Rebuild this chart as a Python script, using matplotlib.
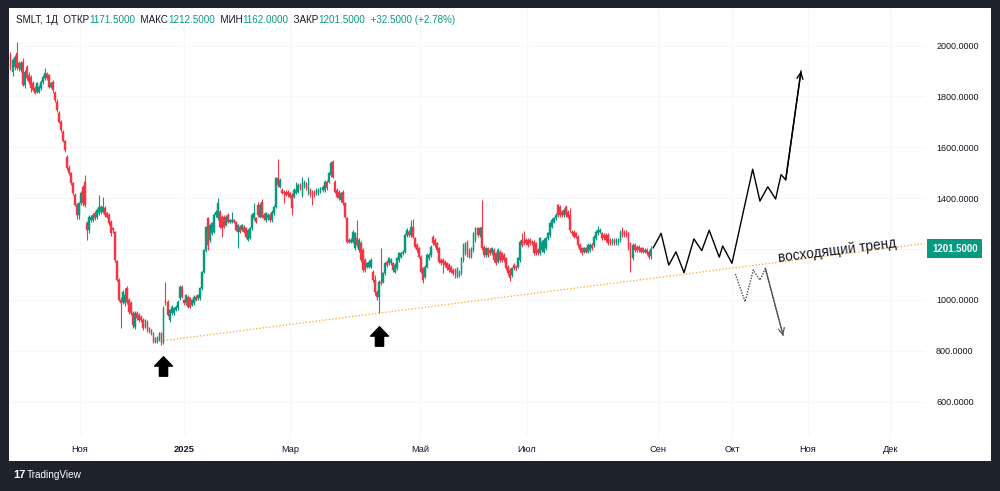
import numpy as np
import matplotlib
matplotlib.use("Agg")
import matplotlib.pyplot as plt
import matplotlib.transforms as mtransforms
from matplotlib.patches import Rectangle
from matplotlib.path import Path

# daily SMLT candles (bar index = position on the time axis)
opens = [
    1963, 1898, 1917, 1970, 1931, 1904, 1937, 1845, 1917, 1885,
    1878, 1852, 1832, 1819, 1819, 1832, 1858, 1872, 1887, 1885,
    1839, 1858, 1813, 1780, 1734, 1700, 1662, 1625, 1563, 1518,
    1498, 1458, 1413, 1375, 1334, 1380, 1445, 1465, 1301, 1275,
    1314, 1314, 1341, 1327, 1341, 1345, 1347, 1360, 1341, 1334,
    1308, 1281, 1268, 1153, 1080, 1000, 993, 987, 1046, 1000,
    987, 947,
    895, 948, 941, 934, 921, 895, 915, 889, 869, 869,
    836, 836, 843, 869, 830, 1000, 993, 921, 948, 948,
    961, 967, 1007, 1052, 1000, 987, 1013, 1007, 980, 987,
    1013, 1007, 1007, 1046, 1111, 1197, 1321, 1236, 1262, 1269,
    1334, 1321, 1347, 1328, 1328, 1295, 1334, 1308, 1308, 1314,
    1308, 1269, 1288, 1275, 1288, 1282, 1236, 1243, 1282, 1321,
    1321, 1374, 1328, 1387, 1334,
    1315, 1321, 1334, 1315, 1341, 1367, 1479, 1446, 1433, 1426,
    1426, 1426, 1420, 1413, 1406, 1420, 1426, 1452, 1413, 1446,
    1459, 1420, 1433, 1426, 1426, 1420, 1420, 1426, 1433, 1433,
    1465, 1465, 1492, 1544, 1465, 1433, 1426, 1393, 1426, 1380,
    1321, 1236, 1229, 1229, 1203, 1243, 1197, 1223, 1197, 1157,
    1131, 1131, 1131, 1111, 1079, 1030, 1010, 1072, 1072, 1105,
    1151, 1144, 1144, 1144, 1111, 1125, 1157, 1170,
    1183, 1190, 1255, 1269, 1255, 1288, 1242, 1216, 1203, 1170,
    1124, 1092, 1131, 1164, 1177, 1249, 1236, 1223, 1203, 1157,
    1157, 1151, 1144, 1137, 1131, 1118, 1118, 1092, 1098, 1105,
    1157, 1183, 1229, 1196, 1170, 1196, 1236, 1282, 1255, 1288,
    1210, 1177, 1203, 1196, 1183, 1196, 1183, 1151, 1190, 1183,
    1177, 1164, 1131, 1118, 1098, 1137, 1131, 1131, 1157, 1236,
    1229, 1236, 1236, 1236, 1229, 1229, 1223, 1196, 1183, 1196,
    1190, 1203, 1242, 1255, 1288, 1308, 1321, 1373, 1367, 1347,
    1334, 1367, 1347, 1334, 1269, 1269, 1262, 1249, 1216, 1203,
    1190, 1203, 1190, 1196, 1216, 1216, 1242, 1262, 1269, 1262,
    1255, 1255, 1255, 1236, 1223, 1236, 1223, 1223, 1236, 1275,
    1269, 1269, 1262, 1223, 1164, 1216, 1210, 1210, 1203, 1203,
    1190, 1196, 1190, 1171.5,
]
highs = [
    1975, 1950, 1965, 2016, 1940, 1940, 1950, 1905, 1925, 1895,
    1885, 1860, 1840, 1858, 1846, 1865, 1885, 1911, 1895, 1890,
    1858, 1865, 1820, 1790, 1742, 1706, 1668, 1630, 1570, 1530,
    1505, 1465, 1420, 1380, 1385, 1428, 1452, 1490, 1310, 1334,
    1334, 1340, 1350, 1360, 1413, 1372, 1406, 1368, 1347, 1340,
    1315, 1288, 1272, 1158, 1086, 1010, 1040, 1045, 1055, 1008,
    995, 955,
    955, 958, 948, 940, 928, 925, 922, 895, 886, 875,
    853, 860, 872, 874, 975, 1072, 1000, 965, 980, 972,
    980, 998, 1058, 1058, 1005, 1025, 1020, 1012, 1005, 1018,
    1018, 1025, 1050, 1115, 1202, 1292, 1328, 1300, 1306, 1340,
    1352, 1400, 1352, 1333, 1334, 1333, 1340, 1318, 1347, 1320,
    1312, 1300, 1295, 1300, 1294, 1288, 1280, 1288, 1340, 1380,
    1326, 1387, 1380, 1395, 1340,
    1347, 1340, 1340, 1352, 1374, 1485, 1553, 1478, 1440, 1432,
    1432, 1432, 1426, 1420, 1440, 1465, 1458, 1460, 1485, 1472,
    1465, 1485, 1440, 1432, 1432, 1440, 1440, 1446, 1452, 1472,
    1472, 1505, 1545, 1551, 1472, 1440, 1433, 1426, 1433, 1387,
    1328, 1242, 1242, 1275, 1269, 1315, 1242, 1230, 1203, 1164,
    1150, 1157, 1164, 1118, 1100, 1040, 1078, 1203, 1111, 1151,
    1157, 1170, 1164, 1151, 1144, 1170, 1190, 1190,
    1196, 1262, 1282, 1275, 1314, 1317, 1249, 1223, 1210, 1177,
    1131, 1138, 1184, 1184, 1216, 1256, 1242, 1229, 1210, 1164,
    1164, 1157, 1151, 1144, 1137, 1124, 1124, 1131, 1118, 1170,
    1223, 1229, 1236, 1203, 1210, 1269, 1288, 1288, 1288, 1393,
    1216, 1210, 1210, 1203, 1210, 1203, 1190, 1203, 1196, 1190,
    1183, 1170, 1137, 1124, 1131, 1144, 1137, 1170, 1236, 1265,
    1270, 1242, 1242, 1242, 1236, 1236, 1229, 1203, 1249, 1236,
    1242, 1249, 1269, 1308, 1321, 1328, 1341, 1377, 1373, 1354,
    1360, 1373, 1354, 1360, 1275, 1275, 1269, 1255, 1223, 1210,
    1210, 1210, 1223, 1223, 1223, 1255, 1275, 1290, 1282, 1269,
    1262, 1262, 1262, 1242, 1242, 1242, 1242, 1242, 1275, 1288,
    1275, 1275, 1269, 1229, 1223, 1223, 1216, 1216, 1210, 1210,
    1203, 1203, 1198, 1212.5,
]
lows = [
    1905, 1880, 1905, 1905, 1900, 1895, 1840, 1835, 1865, 1850,
    1819, 1820, 1808, 1812, 1812, 1825, 1850, 1865, 1865, 1832,
    1832, 1815, 1780, 1740, 1695, 1660, 1620, 1580, 1510, 1490,
    1452, 1412, 1370, 1320, 1320, 1372, 1370, 1365, 1236, 1262,
    1305, 1305, 1315, 1320, 1335, 1338, 1340, 1328, 1322, 1295,
    1250, 1262, 1150, 1075, 995, 888, 985, 975, 985, 945,
    940, 890,
    885, 922, 915, 915, 882, 888, 875, 870, 862, 830,
    830, 830, 838, 823, 826, 980, 935, 915, 942, 940,
    955, 960, 1000, 1008, 980, 982, 968, 968, 975, 982,
    995, 1000, 1000, 1040, 1105, 1190, 1197, 1228, 1255, 1262,
    1328, 1315, 1282, 1249, 1282, 1290, 1302, 1302, 1302, 1302,
    1270, 1203, 1262, 1270, 1262, 1244, 1230, 1238, 1276, 1315,
    1302, 1328, 1322, 1322, 1315,
    1308, 1315, 1308, 1308, 1335, 1360, 1446, 1440, 1415, 1380,
    1408, 1406, 1400, 1334, 1400, 1415, 1420, 1433, 1406, 1440,
    1433, 1413, 1406, 1374, 1406, 1413, 1413, 1420, 1426, 1426,
    1433, 1458, 1485, 1478, 1420, 1400, 1393, 1387, 1374, 1321,
    1222, 1222, 1222, 1222, 1197, 1210, 1190, 1150, 1111, 1111,
    1125, 1125, 1125, 1072, 1020, 1000, 948, 1060, 1066, 1098,
    1131, 1138, 1138, 1111, 1105, 1118, 1151, 1164,
    1177, 1183, 1249, 1249, 1249, 1242, 1203, 1190, 1164, 1105,
    1065, 1085, 1124, 1157, 1170, 1216, 1210, 1190, 1144, 1138,
    1105, 1131, 1118, 1111, 1105, 1098, 1085, 1085, 1092, 1098,
    1151, 1177, 1170, 1164, 1164, 1190, 1229, 1249, 1249, 1196,
    1170, 1170, 1170, 1177, 1177, 1151, 1138, 1144, 1151, 1151,
    1151, 1118, 1098, 1075, 1092, 1118, 1118, 1124, 1151, 1210,
    1216, 1216, 1210, 1216, 1216, 1177, 1177, 1177, 1177, 1190,
    1183, 1196, 1236, 1249, 1282, 1301, 1314, 1328, 1328, 1328,
    1328, 1328, 1321, 1269, 1255, 1242, 1242, 1210, 1190, 1177,
    1183, 1183, 1183, 1190, 1196, 1210, 1236, 1255, 1262, 1236,
    1236, 1229, 1216, 1216, 1216, 1216, 1216, 1216, 1229, 1249,
    1249, 1249, 1196, 1111, 1157, 1190, 1190, 1190, 1183, 1183,
    1183, 1177, 1160, 1162,
]
closes = [
    1911, 1944, 1957, 1911, 1911, 1931, 1845, 1898, 1872, 1858,
    1832, 1826, 1813, 1852, 1839, 1858, 1878, 1891, 1872, 1839,
    1852, 1826, 1786, 1747, 1700, 1668, 1625, 1590, 1518, 1498,
    1458, 1419, 1375, 1334, 1380, 1420, 1380, 1373, 1275, 1328,
    1328, 1334, 1321, 1354, 1367, 1367, 1367, 1334, 1328, 1301,
    1262, 1275, 1157, 1080, 1000, 987, 1033, 1019, 993, 954,
    947, 901,
    948, 928, 921, 921, 889, 921, 882, 876, 882, 836,
    849, 856, 869, 830, 967, 987, 941, 961, 974, 967,
    974, 993, 1052, 1013, 987, 1020, 974, 974, 1000, 1013,
    1000, 1020, 1046, 1111, 1197, 1288, 1216, 1295, 1302, 1334,
    1347, 1380, 1288, 1282, 1288, 1328, 1308, 1314, 1314, 1308,
    1275, 1295, 1269, 1295, 1269, 1249, 1275, 1282, 1334, 1341,
    1308, 1334, 1374, 1328, 1321,
    1341, 1334, 1315, 1347, 1367, 1479, 1452, 1472, 1420, 1420,
    1413, 1413, 1406, 1361, 1433, 1433, 1452, 1439, 1465, 1465,
    1439, 1446, 1413, 1413, 1413, 1433, 1433, 1439, 1446, 1465,
    1439, 1498, 1538, 1485, 1426, 1406, 1400, 1420, 1380, 1328,
    1229, 1229, 1236, 1269, 1262, 1216, 1236, 1157, 1118, 1118,
    1144, 1151, 1157, 1079, 1030, 1010, 1072, 1066, 1105, 1144,
    1138, 1164, 1157, 1118, 1138, 1164, 1184, 1184,
    1190, 1255, 1275, 1255, 1288, 1249, 1210, 1196, 1170, 1111,
    1078, 1131, 1177, 1177, 1210, 1223, 1216, 1196, 1151, 1144,
    1144, 1137, 1124, 1118, 1111, 1105, 1098, 1124, 1111, 1164,
    1216, 1223, 1177, 1170, 1203, 1262, 1282, 1255, 1282, 1203,
    1177, 1203, 1177, 1183, 1203, 1157, 1144, 1196, 1157, 1157,
    1157, 1124, 1105, 1085, 1124, 1124, 1124, 1164, 1229, 1216,
    1223, 1223, 1216, 1223, 1223, 1183, 1183, 1183, 1242, 1229,
    1236, 1242, 1262, 1301, 1314, 1321, 1334, 1334, 1334, 1334,
    1354, 1334, 1328, 1275, 1262, 1249, 1249, 1216, 1196, 1183,
    1203, 1190, 1216, 1216, 1203, 1249, 1269, 1275, 1275, 1242,
    1242, 1236, 1223, 1223, 1236, 1223, 1236, 1236, 1269, 1255,
    1255, 1255, 1203, 1170, 1216, 1196, 1196, 1196, 1190, 1190,
    1196, 1183, 1169, 1201.5,
]

# time axis labels (bar positions)
month_pos = [34.5, 86.2, 138.8, 203.4, 256.6, 321.7, 358.4, 396.2, 437.0]
month_labels = ["Ноя", "2025", "Мар", "Май", "Июл", "Сен", "Окт", "Ноя", "Дек"]
price_ticks = [600, 800, 1000, 1200, 1400, 1600, 1800, 2000]

# drawn scenario: main path and dotted alternative
up_x = [319.3, 323.2, 327.0, 330.6, 334.6, 339.5, 343.4, 347.1, 352.1,
        353.8, 358.4, 368.7, 372.3, 376.2, 380.1, 382.8, 385.1, 392.7]
up_y = [1205, 1262, 1137, 1189, 1107, 1240, 1194, 1274, 1168,
        1212, 1144, 1514, 1389, 1445, 1397, 1493, 1472, 1900]
down_x = [360.1, 364.9, 369.0, 372.3, 375.0, 383.9]
down_y = [1102, 993, 1118, 1078, 1124, 858]

# rising trend line and the two lows it rests on
trend_x = [76, 454.3]
trend_y = [840, 1222]
low_marks_x = [76, 183]
low_marks_y = [740, 858]

last_price = 1201.5
header = [("SMLT, 1Д  ОТКР", "#131722"), ("1171.5000", "#089981"),
          ("  МАКС", "#131722"), ("1212.5000", "#089981"),
          ("  МИН", "#131722"), ("1162.0000", "#089981"),
          ("  ЗАКР", "#131722"), ("1201.5000", "#089981"),
          ("  +32.5000 (+2.78%)", "#089981")]

UP = "#089981"
DOWN = "#f23645"
FONT = "Liberation Sans"

fig = plt.figure(figsize=(10, 4.91), dpi=100, facecolor="#1e222d")
fig.patches.append(Rectangle((9 / 1000, 30 / 491), 982 / 1000, 453 / 491,
                             transform=fig.transFigure, facecolor="white",
                             edgecolor="none", zorder=-5))

ax = fig.add_axes([0.009, 54 / 491, 0.916, 429 / 491])
ax.set_facecolor("none")
for s in ax.spines.values():
    s.set_visible(False)
ax.set_xlim(-0.745, 454.3)
ax.set_ylim(461, 2148)

o = np.array(opens, float)
h = np.array(highs, float)
l = np.array(lows, float)
c = np.array(closes, float)
x = np.arange(len(c))
cols = [UP if cc >= oo else DOWN for oo, cc in zip(o, c)]

ax.vlines(x, l, h, colors=cols, lw=0.8, zorder=3)
ax.bar(x, c - o, bottom=o, width=0.86, color=cols, edgecolor=cols,
       linewidth=0.3, zorder=3)

# grid; the 1200 level sits under the last-price tag, so no label there
ax.set_yticks(price_ticks)
ax.set_yticklabels(["" if p == 1200 else f"{p:.4f}" for p in price_ticks])
ax.set_xticks(month_pos)
ax.set_xticklabels(month_labels)
ax.grid(True, color="#f6f7f9", lw=0.8, zorder=0)
ax.set_axisbelow(True)
ax.yaxis.tick_right()
ax.tick_params(axis="y", length=0, pad=8, labelsize=6.5, labelcolor="#131722")
ax.tick_params(axis="x", length=0, pad=5.5, labelsize=6.7, labelcolor="#131722")
for t in ax.get_xticklabels() + ax.get_yticklabels():
    t.set_fontfamily(FONT)
ax.get_xticklabels()[1].set_fontweight("bold")

# trend line + label
ax.plot(trend_x, trend_y, color="#ff9800", lw=1.0, ls=(0, (1, 1.4)), alpha=0.75, zorder=2)
ax.text(410.6, 1193, "восходящий тренд", rotation=7.2, rotation_mode="anchor",
        ha="center", va="center", fontsize=9.8, color="#131722", family=FONT)

# arrows under the lows
arrow = Path([(-0.46, 0.02), (0, 0.5), (0.46, 0.02), (0.21, 0.02), (0.21, -0.5),
              (-0.21, -0.5), (-0.21, 0.02), (-0.46, 0.02)],
             [Path.MOVETO] + [Path.LINETO] * 6 + [Path.CLOSEPOLY])
ax.plot(low_marks_x, low_marks_y, ls="none", marker=arrow, ms=14, color="black", zorder=4)

# scenarios
ax.plot(up_x, up_y, color="black", lw=1.0, zorder=4)
ax.annotate("", xy=(up_x[-1], up_y[-1]), xytext=(up_x[-2], up_y[-2]),
            arrowprops=dict(arrowstyle="->,head_length=0.45,head_width=0.22",
                            color="black", lw=1.0, shrinkA=0, shrinkB=0), zorder=4)
ax.plot(down_x, down_y, color="#4a4e59", lw=1.0, ls=(0, (1, 1)), zorder=4)
ax.annotate("", xy=(down_x[-1], down_y[-1]), xytext=(down_x[-2], down_y[-2]),
            arrowprops=dict(arrowstyle="->,head_length=0.45,head_width=0.22",
                            color="#4a4e59", lw=1.0, ls=(0, (1, 1)), shrinkA=0, shrinkB=0),
            zorder=4)

# last price tag
tr = mtransforms.blended_transform_factory(ax.transAxes, ax.transData)
ax.annotate(f"{last_price:.4f}", xy=(1, last_price), xycoords=tr,
            xytext=(5, 0), textcoords="offset points", ha="left", va="center",
            fontsize=6.9, fontweight="bold", color="white", family=FONT,
            bbox=dict(boxstyle="square,pad=0.5", fc=UP, ec="none"),
            annotation_clip=False, zorder=6)

# header legend
r = fig.canvas.get_renderer()
px = 16
for s, col in header:
    t = fig.text(px / 1000, 1 - 20 / 491, s, color=col, fontsize=7.1,
                 family=FONT, va="center", ha="left")
    px += t.get_window_extent(renderer=r).width

# watermark
fig.text(13 / 1000, 1 - 475 / 491, "17", color="white", fontsize=8,
         fontweight="heavy", family=FONT, va="center")
fig.text(27 / 1000, 1 - 475 / 491, "TradingView", color="white", fontsize=7.2,
         family=FONT, va="center")

fig.savefig("out.png", dpi=100, facecolor=fig.get_facecolor())
